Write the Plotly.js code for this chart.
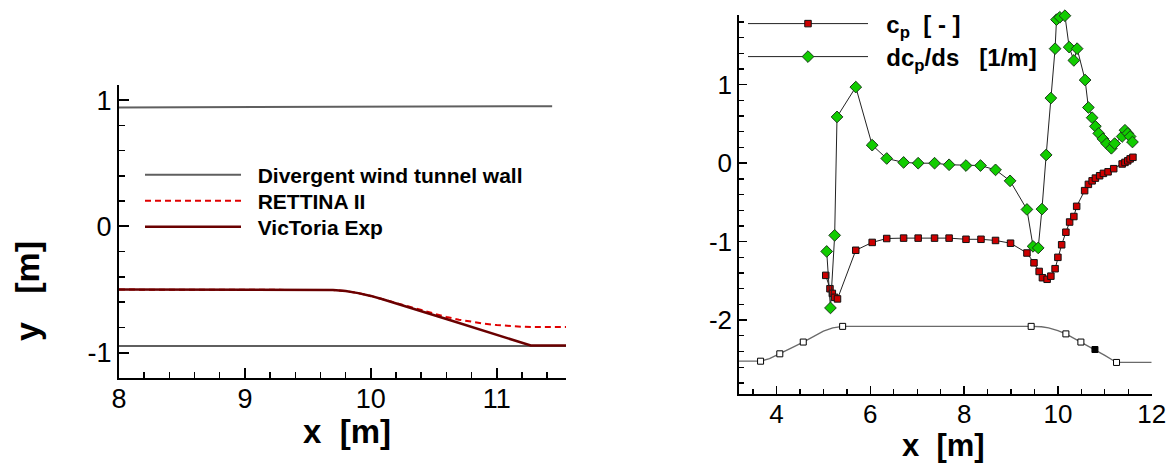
<!DOCTYPE html>
<html>
<head>
<meta charset="utf-8">
<script src="https://cdn.plot.ly/plotly-3.0.1.min.js"></script>
<style>html,body{margin:0;padding:0;background:#fff;}#chart{width:1175px;height:463px;}</style>
</head>
<body>
<div id="chart"></div>
<script>
// ---------- Left panel: wall contours ----------
const wallTopX = [8, 11.44];
const wallTopY = [0.942, 0.952];
const wallBotX = [8, 11.55];
const wallBotY = [-0.946, -0.946];
const rettinaX = [8, 9.6, 9.7, 9.8, 9.9, 10.0, 10.1, 10.2, 10.3, 10.4, 10.5, 10.6, 10.7, 10.8, 10.9, 11.0, 11.1, 11.2, 11.3, 11.55];
const rettinaY = [-0.5, -0.5, -0.503, -0.512, -0.528, -0.55, -0.578, -0.608, -0.638, -0.667, -0.694, -0.717, -0.738, -0.756, -0.77, -0.781, -0.789, -0.794, -0.797, -0.797];
const victoriaX = [8, 9.6, 9.7, 9.8, 9.9, 10.0, 10.1, 10.6, 11.27, 11.55];
const victoriaY = [-0.5, -0.5, -0.503, -0.512, -0.528, -0.55, -0.578, -0.733, -0.943, -0.943];

// ---------- Right panel: pressure distribution ----------
const cpX = [5.05, 5.14, 5.19, 5.24, 5.30, 5.69, 6.04, 6.35, 6.71, 7.02, 7.37, 7.68, 8.04, 8.36, 8.67, 8.99, 9.34, 9.49, 9.60, 9.67, 9.77, 9.85, 9.94, 10.0, 10.08, 10.17, 10.25, 10.34, 10.40, 10.57, 10.65, 10.73, 10.80, 10.89, 10.97, 11.07, 11.19, 11.37, 11.43, 11.49, 11.54, 11.60];
const cpY = [-1.43, -1.60, -1.66, -1.71, -1.73, -1.11, -1.01, -0.96, -0.955, -0.955, -0.955, -0.955, -0.97, -0.97, -0.985, -1.02, -1.145, -1.27, -1.38, -1.46, -1.48, -1.44, -1.345, -1.20, -1.04, -0.88, -0.75, -0.68, -0.55, -0.35, -0.27, -0.225, -0.19, -0.16, -0.13, -0.11, -0.07, -0.01, 0.01, 0.03, 0.055, 0.075];
const dcpX = [5.07, 5.15, 5.24, 5.29, 5.69, 6.04, 6.35, 6.71, 7.02, 7.37, 7.68, 8.04, 8.35, 8.67, 8.98, 9.34, 9.47, 9.58, 9.66, 9.75, 9.85, 9.94, 9.97, 10.04, 10.15, 10.24, 10.34, 10.41, 10.58, 10.65, 10.73, 10.80, 10.87, 10.96, 11.04, 11.14, 11.21, 11.37, 11.43, 11.49, 11.54, 11.59];
const dcpY = [-1.125, -1.845, -0.92, 0.59, 0.97, 0.23, 0.06, 0.01, 0.0, 0.0, -0.02, -0.03, -0.03, -0.085, -0.225, -0.59, -1.06, -1.08, -0.585, 0.105, 0.83, 1.46, 1.83, 1.86, 1.88, 1.48, 1.31, 1.46, 1.06, 0.71, 0.58, 0.47, 0.38, 0.31, 0.25, 0.19, 0.25, 0.34, 0.42, 0.38, 0.34, 0.27];
const geomX = [3.2, 3.66, 3.85, 4.07, 4.3, 4.57, 4.8, 5.0, 5.2, 5.41, 9.43, 9.65, 9.8, 10.0, 10.17, 10.49, 10.79, 11.0, 11.25, 11.4, 12];
const geomY = [-2.524, -2.524, -2.49, -2.43, -2.36, -2.28, -2.2, -2.14, -2.10, -2.08, -2.08, -2.085, -2.10, -2.135, -2.176, -2.28, -2.375, -2.45, -2.54, -2.54, -2.54];
const geomPtX = [3.66, 4.07, 4.57, 5.41, 9.43, 10.17, 10.49, 10.79, 11.25];
const geomPtY = [-2.524, -2.43, -2.28, -2.08, -2.08, -2.176, -2.28, -2.375, -2.54];
const geomPtFill = ['white', 'white', 'white', 'white', 'white', 'white', 'white', 'black', 'white'];

// tick labels
const leftXTicks = [8, 9, 10, 11];
const leftYTicks = [-1, 0, 1];
const rightXTicks = [4, 6, 8, 10, 12];
const rightYTicks = [-2, -1, 0, 1];
const lbl = v => String(v);
function minorVals(lo, hi, step) {
  const out = [];
  for (let i = Math.ceil(lo / step - 1e-9); i * step <= hi + 1e-9; i++) out.push(+(i * step).toFixed(6));
  return out;
}

const FONT = 'Liberation Sans, Arial, Helvetica, sans-serif';
const W = 1175, H = 463;

const traces = [
  {x: wallTopX, y: wallTopY, mode: 'lines', name: '\u00a0\u00a0Divergent wind tunnel wall', legend: 'legend',
   line: {color: '#5f5f5f', width: 2}, xaxis: 'x', yaxis: 'y'},
  {x: wallBotX, y: wallBotY, mode: 'lines', showlegend: false,
   line: {color: '#5f5f5f', width: 2}, xaxis: 'x', yaxis: 'y'},
  {x: rettinaX, y: rettinaY, mode: 'lines', name: '\u00a0\u00a0RETTINA II', legend: 'legend3',
   line: {color: '#e00000', width: 2, dash: '6px,4px'}, xaxis: 'x', yaxis: 'y'},
  {x: victoriaX, y: victoriaY, mode: 'lines', name: '\u00a0\u00a0VicToria Exp', legend: 'legend4',
   line: {color: '#6a0000', width: 2.5}, xaxis: 'x', yaxis: 'y'},

  {x: geomX, y: geomY, mode: 'lines', showlegend: false,
   line: {color: '#6a6a6a', width: 1.3}, xaxis: 'x2', yaxis: 'y2'},
  {x: geomPtX, y: geomPtY, mode: 'markers', showlegend: false,
   marker: {symbol: 'square', size: 6, color: geomPtFill, line: {color: 'black', width: 1}}, xaxis: 'x2', yaxis: 'y2'},
  {x: cpX, y: cpY, mode: 'lines+markers', name: '\u00a0\u00a0c<sub>p</sub>\u00a0\u00a0[ - ]', legend: 'legend2',
   line: {color: '#222', width: 1}, marker: {symbol: 'square', size: 6.5, color: '#cc0000', line: {color: '#111', width: 1}},
   cliponaxis: false, xaxis: 'x2', yaxis: 'y2'},
  {x: dcpX, y: dcpY, mode: 'lines+markers', name: '\u00a0\u00a0dc<sub>p</sub>/ds\u00a0\u00a0\u00a0[1/m]', legend: 'legend5',
   line: {color: '#222', width: 1}, marker: {symbol: 'diamond', size: 9, color: '#11cc00', line: {color: '#1a3a1a', width: 1}},
   cliponaxis: false, xaxis: 'x2', yaxis: 'y2'}
];

function axisBase(extra) {
  return Object.assign({
    showline: true, linecolor: 'black', linewidth: 2, mirror: false,
    showgrid: false, zeroline: false, ticks: 'inside', tickcolor: 'black',
    tickfont: {family: FONT, size: 27, color: 'black'}, tickmode: 'array', fixedrange: true
  }, extra);
}

function leg(xpx, ypx, w, size) {
  return {x: xpx / W, xanchor: 'left', y: 1 - ypx / H, yanchor: 'middle', bgcolor: 'rgba(0,0,0,0)',
    itemwidth: w, font: {family: FONT, size: size, color: 'black', weight: 'bold'}};
}

const layout = {
  width: W, height: H,
  margin: {l: 0, r: 0, t: 0, b: 0, autoexpand: false},
  paper_bgcolor: 'white', plot_bgcolor: 'white',
  showlegend: true,
  xaxis: axisBase({domain: [119 / W, 566 / W], range: [8, 11.55], anchor: 'y', ticklabelstandoff: -4,
    tickvals: leftXTicks, ticktext: leftXTicks.map(lbl), ticklen: 10, tickwidth: 2,
    minor: {ticks: 'inside', tickmode: 'array', tickvals: minorVals(8, 11.55, 0.2), ticklen: 6, tickwidth: 1.5, tickcolor: 'black'}}),
  yaxis: axisBase({domain: [(H - 378) / H, (H - 85) / H], range: [-1.2, 1.12], anchor: 'x',
    tickvals: leftYTicks, ticktext: leftYTicks.map(lbl), ticklen: 10, tickwidth: 2,
    minor: {ticks: 'inside', tickmode: 'array', tickvals: minorVals(-1.2, 1.12, 0.2), ticklen: 6, tickwidth: 1.5, tickcolor: 'black'}}),
  xaxis2: axisBase({domain: [739 / W, 1151.7 / W], range: [3.2, 12], anchor: 'y2', ticklabelstandoff: -4,
    tickvals: rightXTicks, ticktext: rightXTicks.map(lbl), ticklen: 8, tickwidth: 1.5, linewidth: 1.8,
    tickfont: {family: FONT, size: 26, color: 'black'},
    minor: {ticks: 'inside', tickmode: 'array', tickvals: minorVals(3.5, 12, 0.5), ticklen: 5, tickwidth: 1.3, tickcolor: 'black'}}),
  yaxis2: axisBase({domain: [(H - 394.3) / H, (H - 15) / H], range: [-2.946, 1.889], anchor: 'x2',
    tickvals: rightYTicks, ticktext: rightYTicks.map(lbl), ticklen: 8, tickwidth: 1.5, linewidth: 1.8,
    tickfont: {family: FONT, size: 26, color: 'black'},
    minor: {ticks: 'inside', tickmode: 'array', tickvals: minorVals(-2.8, 1.88, 0.2), ticklen: 5, tickwidth: 1.3, tickcolor: 'black'}}),
  legend: leg(140, 175, 96, 21),
  legend3: leg(140, 201, 96, 21),
  legend4: leg(140, 227, 96, 21),
  legend2: leg(743, 24, 120, 24),
  legend5: leg(743, 57, 120, 24),
  annotations: [
    {text: 'x\u00a0\u00a0[m]', xref: 'paper', yref: 'paper', x: 347 / W, y: 1 - 431 / H, xanchor: 'center', yanchor: 'middle',
     showarrow: false, borderpad: 0, font: {family: FONT, size: 33, color: 'black', weight: 'bold'}},
    {text: 'y\u00a0\u00a0\u00a0[m]', xref: 'paper', yref: 'paper', x: 27 / W, y: 1 - 291 / H, xanchor: 'center', yanchor: 'middle',
     textangle: -90, showarrow: false, borderpad: 0, font: {family: FONT, size: 34, color: 'black', weight: 'bold'}},
    {text: 'x\u00a0\u00a0[m]', xref: 'paper', yref: 'paper', x: 943 / W, y: 1 - 445 / H, xanchor: 'center', yanchor: 'middle',
     showarrow: false, borderpad: 0, font: {family: FONT, size: 31, color: 'black', weight: 'bold'}}
  ]
};

Plotly.newPlot('chart', traces, layout, {staticPlot: true, displayModeBar: false});
</script>
</body>
</html>
